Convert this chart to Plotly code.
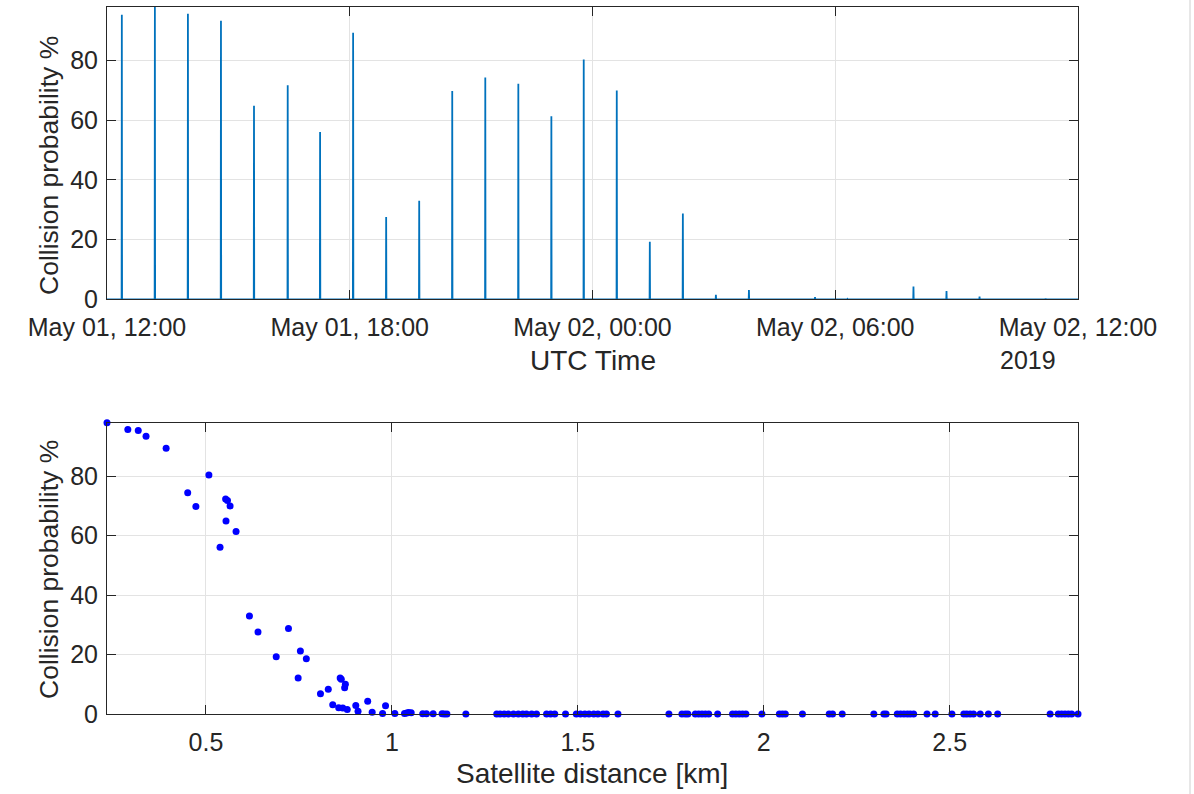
import plotly.graph_objects as go
from datetime import datetime, timedelta

# ---------------- data ----------------
conj_time = ["2019-05-01 12:22", "2019-05-01 13:11", "2019-05-01 14:00", "2019-05-01 14:49",
             "2019-05-01 15:38", "2019-05-01 16:28", "2019-05-01 17:16", "2019-05-01 18:05",
             "2019-05-01 18:54", "2019-05-01 19:43", "2019-05-01 20:32", "2019-05-01 21:21",
             "2019-05-01 22:10", "2019-05-01 22:59", "2019-05-01 23:47", "2019-05-02 00:36",
             "2019-05-02 01:25", "2019-05-02 02:14", "2019-05-02 03:03", "2019-05-02 03:52",
             "2019-05-02 04:41", "2019-05-02 05:30", "2019-05-02 06:18", "2019-05-02 07:07",
             "2019-05-02 07:56", "2019-05-02 08:45", "2019-05-02 09:34", "2019-05-02 10:23",
             "2019-05-02 11:12"]
conj_prob = [95.4, 98.0, 95.7, 93.4, 64.9, 71.8, 56.1, 89.4, 27.6, 33.0, 69.8, 74.4,
             72.3, 61.4, 80.4, 70.0, 19.3, 28.8, 1.5, 3.1, 0.2, 0.7, 0.1, 0.05,
             4.3, 2.8, 0.9, 0.2, 0.3]

time_start = "2019-05-01 12:00"
time_end = "2019-05-02 12:00"
tick_times = ["2019-05-01 12:00", "2019-05-01 18:00", "2019-05-02 00:00",
              "2019-05-02 06:00", "2019-05-02 12:00"]
tick_labels = ["May 01, 12:00", "May 01, 18:00", "May 02, 00:00",
               "May 02, 06:00", "May 02, 12:00"]

dist_km = [0.234, 0.290, 0.318, 0.339, 0.393, 0.451, 0.473, 0.508, 0.538, 0.553,
           0.558, 0.554, 0.565, 0.581, 0.617, 0.640, 0.689, 0.722, 0.748, 0.754,
           0.770, 0.808, 0.829, 0.841, 0.857, 0.861, 0.864, 0.868, 0.873, 0.875,
           0.880, 0.903, 0.909, 0.935, 0.947, 0.975, 0.983, 1.008,
           1.034, 1.040, 1.045, 1.052, 1.083, 1.093, 1.111, 1.135, 1.141, 1.148,
           1.199, 1.282, 1.291, 1.302, 1.313, 1.327, 1.340, 1.352, 1.362, 1.376,
           1.389, 1.416, 1.427, 1.438, 1.467, 1.496, 1.507, 1.519, 1.530, 1.543,
           1.554, 1.568, 1.577, 1.608, 1.745, 1.780, 1.789, 1.796, 1.816, 1.825,
           1.834, 1.843, 1.852, 1.876, 1.916, 1.925, 1.934, 1.943, 1.952, 1.995,
           2.042, 2.050, 2.058, 2.104, 2.176, 2.185, 2.211, 2.296, 2.323, 2.329,
           2.359, 2.368, 2.377, 2.386, 2.394, 2.403, 2.439, 2.461, 2.506, 2.538,
           2.546, 2.555, 2.564, 2.582, 2.604, 2.629, 2.770, 2.792, 2.801, 2.810,
           2.819, 2.828, 2.845]
dist_prob = [98.0, 95.7, 95.4, 93.4, 89.4, 74.4, 69.8, 80.4, 56.1, 72.3,
             71.8, 64.9, 70.0, 61.4, 33.0, 27.6, 19.3, 28.8, 12.1, 21.2,
             18.6, 6.8, 8.3, 3.1, 2.1, 12.1, 11.7, 2.0, 8.8, 10.0,
             1.5, 2.9, 0.9, 4.3, 0.6, 0.2, 2.8, 0.2,
             0.2, 0.3, 0.5, 0.4, 0.1, 0.1, 0.1, 0.1, 0.0, 0.0,
             0.0, 0.0, 0.0, 0.0, 0.0, 0.0, 0.0, 0.0, 0.0, 0.0,
             0.0, 0.0, 0.0, 0.0, 0.0, 0.0, 0.0, 0.0, 0.0, 0.0,
             0.0, 0.0, 0.0, 0.0, 0.0, 0.0, 0.0, 0.0, 0.0, 0.0,
             0.0, 0.0, 0.0, 0.0, 0.0, 0.0, 0.0, 0.0, 0.0, 0.0,
             0.0, 0.0, 0.0, 0.0, 0.0, 0.0, 0.0, 0.0, 0.0, 0.0,
             0.0, 0.0, 0.0, 0.0, 0.0, 0.0, 0.0, 0.0, 0.0, 0.0,
             0.0, 0.0, 0.0, 0.0, 0.0, 0.0, 0.0, 0.0, 0.0, 0.0,
             0.0, 0.0, 0.0]

# ------------- build spike line from conjunction events -------------
fmt = "%Y-%m-%d %H:%M"
half = timedelta(seconds=20)
line_x = [datetime.strptime(time_start, fmt)]
line_y = [0.0]
for t, p in zip(conj_time, conj_prob):
    tt = datetime.strptime(t, fmt)
    line_x += [tt - half, tt, tt + half]
    line_y += [0.0, p, 0.0]
line_x.append(datetime.strptime(time_end, fmt))
line_y.append(0.0)

# ---------------- figure ----------------
W, H = 1194, 794
L, R = 107, 1078
FONT = "Liberation Sans, Arial, Helvetica, sans-serif"
TXT = "#262626"
GRID = "#e3e3e3"

def px_x(px):
    return (px - L) / (R - L)

def px_y(py):
    return (H - py) / H

fig = go.Figure()
fig.add_trace(go.Scatter(x=line_x, y=line_y, mode="lines",
                         line=dict(color="#0072BD", width=1.8),
                         xaxis="x", yaxis="y", showlegend=False))
fig.add_trace(go.Scatter(x=dist_km, y=dist_prob, mode="markers",
                         marker=dict(color="#0000FF", size=7),
                         cliponaxis=False,
                         xaxis="x2", yaxis="y2", showlegend=False))

pmax = max(max(conj_prob), max(dist_prob))

common = dict(showline=True, linecolor=TXT, linewidth=1, mirror="ticks",
              ticks="inside", ticklen=9, tickcolor=TXT, tickwidth=1,
              showgrid=True, gridcolor=GRID, gridwidth=1, zeroline=False,
              automargin=False,
              tickfont=dict(family=FONT, size=25, color=TXT))

fig.update_layout(
    width=W, height=H, autosize=False,
    paper_bgcolor="white", plot_bgcolor="white",
    margin=dict(l=L, r=W - R, t=0, b=0, pad=0, autoexpand=False),
    xaxis=dict(domain=[0, 1], anchor="y", type="date",
               range=[time_start, time_end],
               tickvals=tick_times, ticktext=tick_labels,
               ticklabelstandoff=6, **common),
    yaxis=dict(domain=[px_y(299.3), px_y(7)], anchor="x",
               range=[0, pmax], tickvals=[0, 20, 40, 60, 80],
               ticklabelstandoff=3, **common),
    xaxis2=dict(domain=[0, 1], anchor="y2",
                range=[min(dist_km), max(dist_km)],
                tickvals=[0.5, 1, 1.5, 2, 2.5], ticktext=["0.5", "1", "1.5", "2", "2.5"],
                ticklabelstandoff=6, **common),
    yaxis2=dict(domain=[px_y(714), px_y(422.7)], anchor="x2",
                range=[0, pmax], tickvals=[0, 20, 40, 60, 80],
                ticklabelstandoff=3, **common),
)

xt_font = dict(family=FONT, size=28, color=TXT)
yt_font = dict(family=FONT, size=26.5, color=TXT)
fig.add_annotation(text="UTC Time", x=px_x(593), y=px_y(360), xref="paper", yref="paper",
                   xanchor="center", yanchor="middle", showarrow=False, font=xt_font)
fig.add_annotation(text="2019", x=px_x(998), y=px_y(360), xref="paper", yref="paper",
                   xanchor="left", yanchor="middle", showarrow=False,
                   font=dict(family=FONT, size=25, color=TXT))
fig.add_annotation(text="Satellite distance [km]", x=px_x(592), y=px_y(773),
                   xref="paper", yref="paper", xanchor="center", yanchor="middle",
                   showarrow=False, font=xt_font)
fig.add_annotation(text="Collision probability %", x=px_x(49), y=px_y(166),
                   xref="paper", yref="paper", xanchor="center", yanchor="middle",
                   textangle=-90, showarrow=False, font=yt_font)
fig.add_annotation(text="Collision probability %", x=px_x(49), y=px_y(570),
                   xref="paper", yref="paper", xanchor="center", yanchor="middle",
                   textangle=-90, showarrow=False, font=yt_font)

# right-hand window border seen in the reference
fig.add_shape(type="line", xref="paper", yref="paper",
              x0=px_x(1190), x1=px_x(1190), y0=0, y1=1,
              line=dict(color="#cfcfcf", width=1))

fig.write_html("out.html")
